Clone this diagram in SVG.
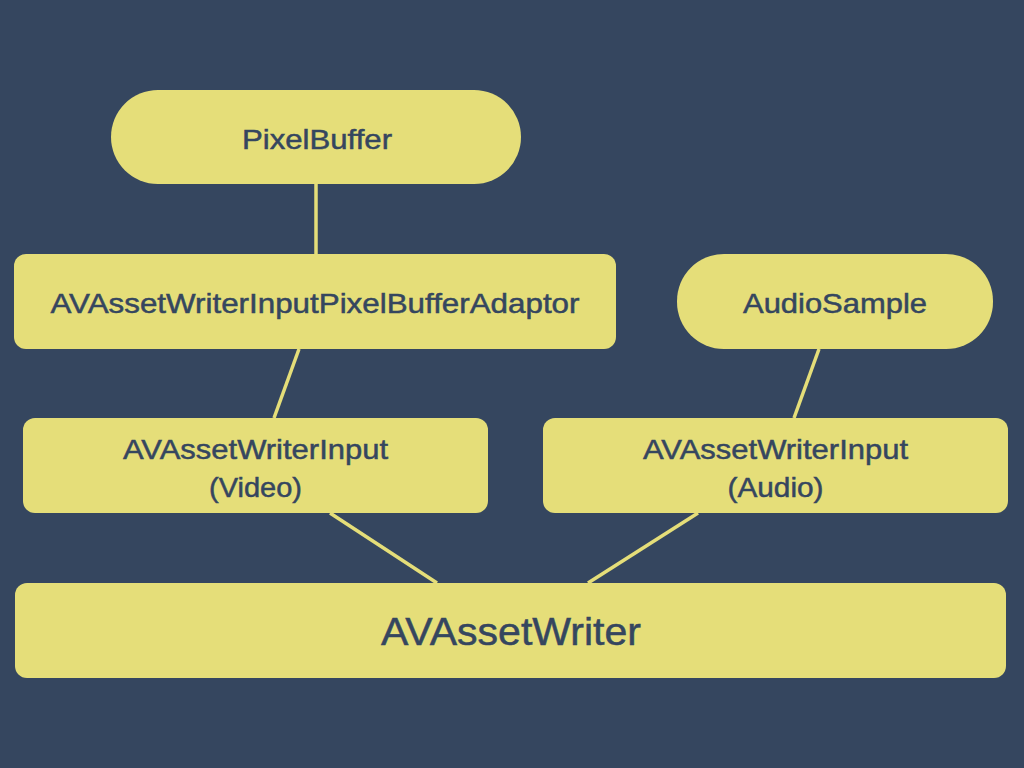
<svg xmlns="http://www.w3.org/2000/svg" width="1024" height="768" viewBox="0 0 1024 768">
  <style>
    .box { fill: #e5de79; }
    .lbl { font-family: "Liberation Sans", Arial, sans-serif; font-size: 28px; fill: #35465f; stroke: #35465f; stroke-width: 0.5; text-anchor: middle; }
    .big { font-size: 38px; }
    .conn { stroke: #e5de79; stroke-width: 3.5; fill: none; }
  </style>
  <rect x="0" y="0" width="1024" height="768" fill="#35465f"/>
  <g id="connectors">
    <line class="conn" x1="316" y1="184" x2="316" y2="254"/>
    <line class="conn" x1="299" y1="349" x2="274" y2="418"/>
    <line class="conn" x1="819" y1="349" x2="794" y2="418"/>
    <line class="conn" x1="330" y1="513" x2="437" y2="583"/>
    <line class="conn" x1="698" y1="513" x2="588" y2="583"/>
  </g>
  <g id="pixelbuffer">
    <rect class="box" x="111" y="90" width="410" height="94" rx="47"/>
    <text class="lbl" x="317" y="149" textLength="150" lengthAdjust="spacingAndGlyphs">PixelBuffer</text>
  </g>
  <g id="adaptor">
    <rect class="box" x="14" y="254" width="602" height="95" rx="12"/>
    <text class="lbl" x="315" y="313" textLength="529" lengthAdjust="spacingAndGlyphs">AVAssetWriterInputPixelBufferAdaptor</text>
  </g>
  <g id="audiosample">
    <rect class="box" x="677" y="254" width="316" height="95" rx="47"/>
    <text class="lbl" x="835" y="313" textLength="184" lengthAdjust="spacingAndGlyphs">AudioSample</text>
  </g>
  <g id="input-video">
    <rect class="box" x="23" y="418" width="465" height="95" rx="12"/>
    <text class="lbl" x="255.5" y="459" textLength="265" lengthAdjust="spacingAndGlyphs">AVAssetWriterInput</text>
    <text class="lbl" x="255.5" y="497" textLength="93" lengthAdjust="spacingAndGlyphs">(Video)</text>
  </g>
  <g id="input-audio">
    <rect class="box" x="543" y="418" width="465" height="95" rx="12"/>
    <text class="lbl" x="775.5" y="459" textLength="265" lengthAdjust="spacingAndGlyphs">AVAssetWriterInput</text>
    <text class="lbl" x="775.5" y="497" textLength="96" lengthAdjust="spacingAndGlyphs">(Audio)</text>
  </g>
  <g id="assetwriter">
    <rect class="box" x="15" y="583" width="991" height="95" rx="12"/>
    <text class="lbl big" x="511" y="645" textLength="260" lengthAdjust="spacingAndGlyphs">AVAssetWriter</text>
  </g>
</svg>
